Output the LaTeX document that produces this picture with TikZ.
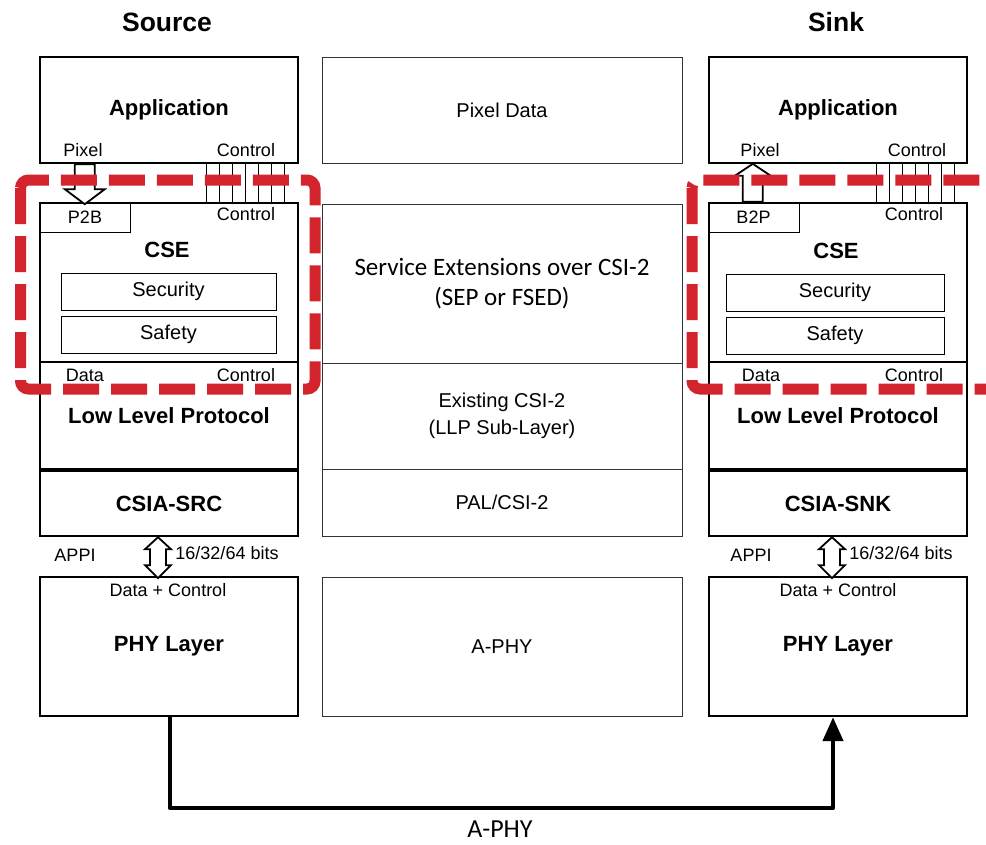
\documentclass[tikz,border=0pt]{standalone}
\usepackage{fontspec}
\setmainfont{Liberation Sans}
\newfontfamily\calfont{Carlito}
\usetikzlibrary{arrows.meta}
\definecolor{sepred}{RGB}{211,36,46}

\tikzset{
  tier/.style={draw, line width=2.4pt, minimum width=258, minimum height=#1, inner sep=0pt, font=\fontsize{22}{26}\selectfont\bfseries},
  midbox/.style={draw=black!80, line width=0.9pt, minimum width=360, minimum height=#1, inner sep=0pt, align=center, font=\fontsize{20}{27}\selectfont},
  subbox/.style={draw, line width=1pt, inner sep=0pt, font=\fontsize{20}{24}\selectfont},
  lbl/.style={inner sep=0pt, font=\fontsize{18}{20}\selectfont},
  ttl/.style={inner sep=0pt, font=\fontsize{22}{26}\selectfont\bfseries},
  hdr/.style={inner sep=0pt, font=\fontsize{26.5}{30}\selectfont\bfseries},
  hollowarr/.style={draw, line width=1.8pt, fill=white, line join=miter},
  bus/.style={line width=4.5pt, line join=round, -{Triangle[length=24pt,width=20pt]}},
  sepline/.style={draw=sepred, line width=11pt, dash pattern=on 36pt off 12pt, rounded corners=8pt},
}

\begin{document}
\begin{tikzpicture}[x=1pt,y=-1pt]
\useasboundingbox[fill=white] (0,0) rectangle (986,844);

\node[hdr] (srcT) at (167,22) {Source};
\node[hdr] (snkT) at (836,22) {Sink};

\node[midbox=106] (pix) at (502,110) {Pixel Data};
\node[midbox=159, font=\calfont\fontsize{25}{30}\selectfont] (sep) at (502,283.5) {Service Extensions over CSI-2\\(SEP or FSED)};
\node[midbox=106] (llpM) at (502,416) {Existing CSI-2\\(LLP Sub-Layer)};
\node[midbox=67] (pal) at (502,502.5) {PAL/CSI-2};
\node[midbox=139] (aphyM) at (502,646.5) {A-PHY};

\node[tier=106] (appL) at (169,110) {Application};
\node[tier=159] (cseL) at (169,282.5) {};
\node[tier=107] (llpL) at (169,415.5) {Low Level Protocol};
\node[tier=65] (csiaL) at (169,503.5) {CSIA-SRC};
\node[tier=139] (phyL) at (169,646.5) {PHY Layer};

\node[tier=106] (appR) at (838,110) {Application};
\node[tier=159] (cseR) at (838,282.5) {};
\node[tier=107] (llpR) at (838,415.5) {Low Level Protocol};
\node[tier=65] (csiaR) at (838,503.5) {CSIA-SNK};
\node[tier=139] (phyR) at (838,646.5) {PHY Layer};

\node[subbox, lbl, minimum width=90, minimum height=29] (p2b) at (85,217.5) {P2B};
\node[subbox, lbl, minimum width=91, minimum height=29] (b2p) at (753.5,217.5) {B2P};
\node[subbox, minimum width=215, minimum height=37] (secL) at (168.5,291.5) {Security};
\node[subbox, minimum width=215, minimum height=37] (safL) at (168.5,334.5) {Safety};
\node[subbox, minimum width=218, minimum height=37] (secR) at (835,292.5) {Security};
\node[subbox, minimum width=218, minimum height=37] (safR) at (835,335.5) {Safety};

\node[ttl] (cseLt) at (167,250) {CSE};
\node[ttl] (cseRt) at (836,251) {CSE};

\node[lbl] (pixLa) at (83,150) {Pixel};
\node[lbl] (ctlLa) at (246,150) {Control};
\node[lbl] (ctlLb) at (246,214) {Control};
\node[lbl] (datL) at (85,375) {Data};
\node[lbl] (ctlLc) at (246,375) {Control};
\node[lbl] (appiL) at (75,555) {APPI};
\node[lbl] (bitsL) at (227,553) {16/32/64 bits};
\node[lbl] (dcL) at (168,590) {Data + Control};

\node[lbl] (pixRa) at (760,150) {Pixel};
\node[lbl] (ctlRa) at (917,150) {Control};
\node[lbl] (ctlRb) at (914,214) {Control};
\node[lbl] (datR) at (761,375) {Data};
\node[lbl] (ctlRc) at (914,375) {Control};
\node[lbl] (appiR) at (751,555) {APPI};
\node[lbl] (bitsR) at (901,553) {16/32/64 bits};
\node[lbl] (dcR) at (838,590) {Data + Control};

\foreach \i in {0,...,6} {
  \draw[line width=1.2pt] ([xshift=168+13*\i]appL.south west) -- ([xshift=168+13*\i]cseL.north west);
  \draw[line width=1.2pt] ([xshift=169+13*\i]appR.south west) -- ([xshift=169+13*\i]cseR.north west);
}

\draw[hollowarr] ([xshift=36]appL.south west) -- ++(0,25) -- ++(-10,0) -- ++(20,15) -- ++(20,-15) -- ++(-10,0) -- ([xshift=56]appL.south west) -- cycle;
\draw[hollowarr] ([xshift=35]cseR.north west) -- ++(0,-26) -- ++(-8,0) -- ++(18,-12) -- ++(18,12) -- ++(-8,0) -- ([xshift=55]cseR.north west) -- cycle;

\draw[hollowarr] ([xshift=-11]csiaL.south) -- ++(13,12) -- ++(-5,0) -- ++(0,16) -- ++(5,0) -- ++(-13,13) -- ++(-13,-13) -- ++(5,0) -- ++(0,-16) -- ++(-5,0) -- cycle;
\draw[hollowarr] ([xshift=-6]csiaR.south) -- ++(13,12) -- ++(-5,0) -- ++(0,16) -- ++(5,0) -- ++(-13,13) -- ++(-13,-13) -- ++(5,0) -- ++(0,-16) -- ++(-5,0) -- cycle;

\coordinate (busR) at (833,808);
\draw[bus] ([xshift=1]phyL.south) |- (busR) -- ([xshift=-5]phyR.south);
\node[inner sep=0pt, font=\calfont\fontsize{26}{30}\selectfont] (aphyB) at (500,829) {A-PHY};

\begin{scope}
\clip (0,0) rectangle (986,844);
\draw[sepline] (20.5,180) rectangle (315,389);
\draw[sepline] (692,180) rectangle (1020,389);
\end{scope}
\end{tikzpicture}
\end{document}
